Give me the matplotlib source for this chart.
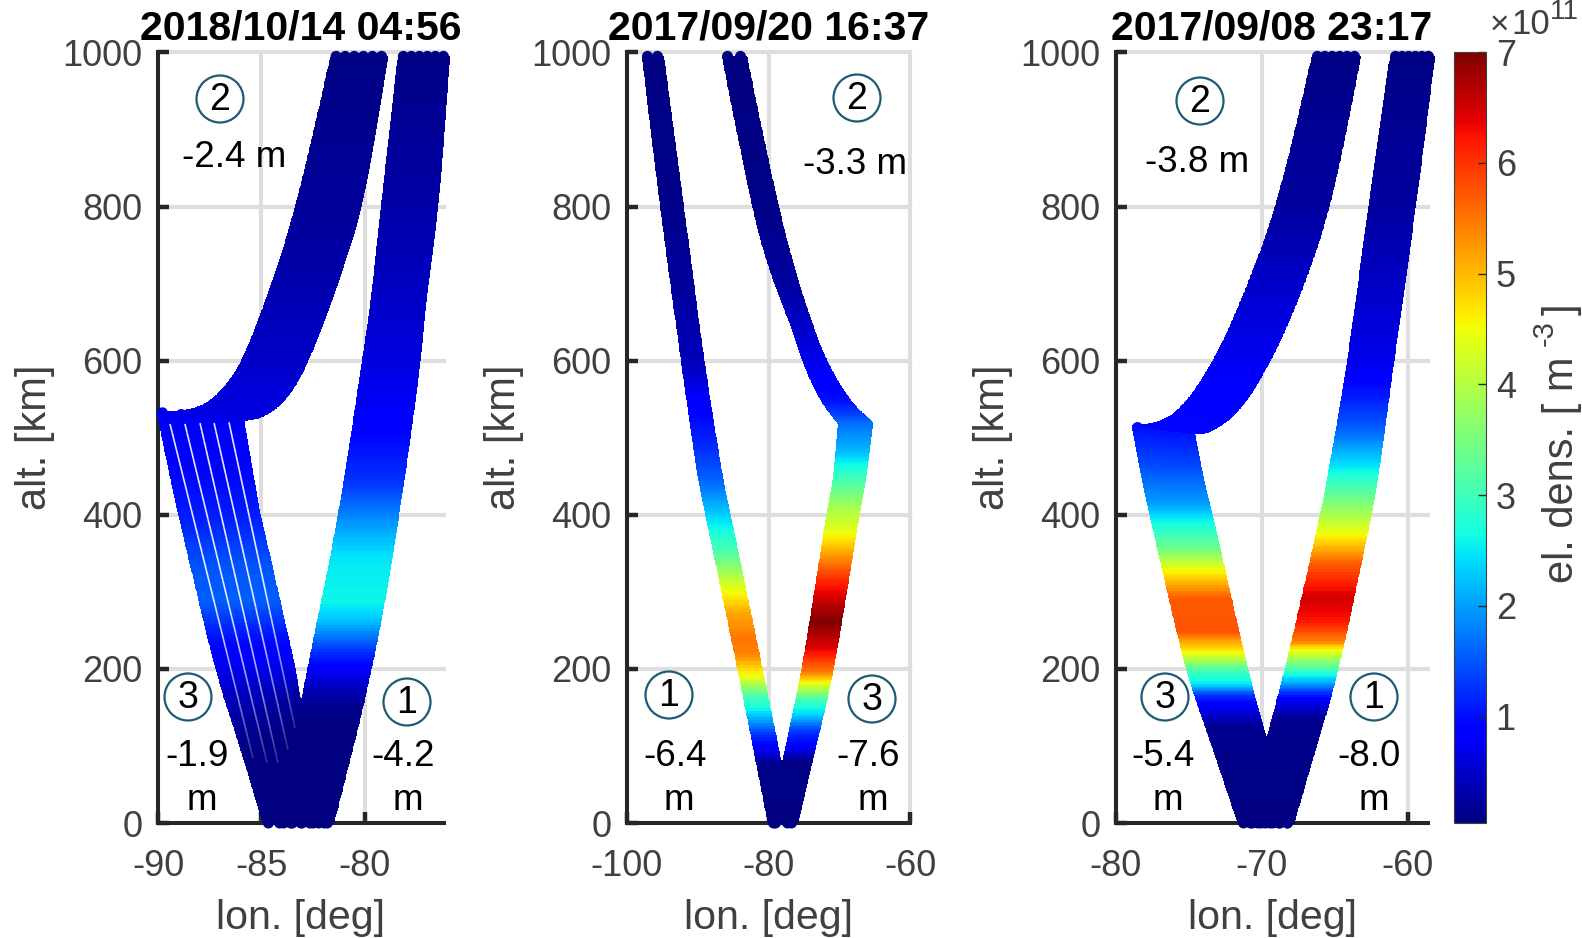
import numpy as np
import matplotlib as mat
mat.use("Agg")
import matplotlib.pyplot as plt
from matplotlib.colors import Normalize
from matplotlib.cm import ScalarMappable
from matplotlib.collections import LineCollection
from matplotlib.patches import Circle
from matplotlib.transforms import IdentityTransform

plt.rcParams['font.family'] = ['Liberation Sans', 'DejaVu Sans']
plt.rcParams['axes.unicode_minus'] = False

W, H = 1582, 938
DARK = '#262626'
GREY = '#404040'
RING = '#1d5b75'
GRID = '#dedede'

titles = ['2018/10/14 04:56', '2017/09/20 16:37', '2017/09/08 23:17']
alt_ticks = [0, 200, 400, 600, 800, 1000]
lon_ticks = [[-90, -85, -80], [-100, -80, -60], [-80, -70, -60]]
lon_lims = [(-90, -76.18), (-100, -60), (-80, -58.63)]
dens_min, dens_max = 0.04, 7
dens_ticks = [1, 2, 3, 4, 5, 6, 7]

# panel 1, ray 1 (right band)
p1_leg1_alt = [0, 200, 393, 600, 678, 800, 995]
p1_leg1_w = [-84.20, -82.80, -81.30, -80.14, -79.71, -79.23, -78.41]
p1_leg1_e = [-81.55, -79.66, -78.41, -77.34, -77.10, -76.47, -75.94]
p1_leg1_pa = [0, 120, 150, 175, 202, 224, 267, 289, 345, 402, 445, 523, 600, 700, 800, 1000]
p1_leg1_pd = [.04, .05, .12, .4, .85, 1.25, 2.3, 2.6, 2.5, 1.8, 1.25, .85, .62, .45, .3, .08]
# panel 1, ray 2 (curved upper band)
p1_leg2_w = [-90.05, -88.12, -87.00, -85.89, -84.44, -83.32, -81.66]
p1_leg2_wa = [533, 537, 558, 600, 704, 800, 995]
p1_leg2_e = [-85.89, -84.93, -83.77, -82.75, -81.30, -80.14, -78.93]
p1_leg2_ea = [523, 527, 551, 600, 704, 800, 995]
p1_leg2_pa = [530, 600, 700, 800, 1000]
p1_leg2_pd = [.65, .5, .33, .2, .08]
# panel 1, ray 3 (left lower band)
p1_leg3_w = [-84.93, -86.04, -87.25, -88.94, -89.18, -90.05]
p1_leg3_wa = [0, 100, 200, 393, 419, 533]
p1_leg3_e = [-81.70, -83.14, -83.38, -85.07, -85.22, -85.89]
p1_leg3_ea = [0, 156, 200, 397, 419, 523]
p1_leg3_pa = [0, 115, 160, 202, 246, 289, 332, 400, 533]
p1_leg3_pd = [.04, .07, .3, .7, 1.05, 1.55, 1.5, 1.1, .72]
# panel 1, gaps between the rays of band 3
p1_gap_top_lon = [-89.42, -88.70, -87.97, -87.29, -86.57]
p1_gap_top_alt = [518, 518, 519, 519, 520]
p1_gap_end_lon = [-85.41, -84.73, -84.20, -83.72, -83.38]
p1_gap_end_alt = [84, 78, 78, 95, 123]

# panel 2
p2_leg1_alt = [0, 198, 398, 445, 600, 800, 995]
p2_leg1_w = [-80.07, -84.31, -88.83, -89.96, -92.37, -95.34, -97.88]
p2_leg1_e = [-76.54, -80.92, -85.44, -86.57, -89.26, -92.08, -94.91]
p2_leg1_pa = [0, 78, 95, 117, 147, 168, 190, 220, 241, 275, 306, 354, 397, 445, 489, 552, 600, 700, 800, 1000]
p2_leg1_pd = [.04, .1, .7, 1.3, 2.5, 3.2, 4.4, 5.4, 5.5, 5.1, 4.4, 3.1, 2.4, 1.6, 1.2, .8, .4, .22, .12, .05]
p2_leg2_w = [-70.18, -72.72, -75.27, -76.54, -80.21, -82.33, -86.57]
p2_leg2_wa = [519, 549, 600, 639, 726, 800, 995]
p2_leg2_e = [-65.37, -68.48, -72.01, -74.0, -75.97, -78.8, -83.18]
p2_leg2_ea = [520, 546, 600, 650, 704, 800, 995]
p2_leg2_pa = [520, 530, 550, 600, 700, 800, 1000]
p2_leg2_pd = [1.7, 1.4, 1.0, .7, .25, .1, .05]
p2_leg3_alt = [0, 78, 198, 406, 445, 519]
p2_leg3_w = [-79.79, -78.09, -75.27, -71.73, -70.88, -70.18]
p2_leg3_e = [-75.97, -74.0, -70.88, -67.21, -66.36, -65.37]
p2_leg3_pa = [0, 82, 99, 121, 143, 160, 182, 198, 228, 263, 315, 350, 380, 410, 423, 467, 488, 519]
p2_leg3_pd = [.04, .1, .8, 1.3, 2.4, 3.0, 4.4, 5.5, 6.4, 7, 6.1, 5.2, 4.4, 3.9, 3.6, 2.6, 2.1, 1.7]

# panel 3
p3_leg1_alt = [0, 108, 198, 398, 445, 600, 800, 995]
p3_leg1_w = [-71.16, -69.73, -68.42, -66.03, -65.55, -64.11, -62.74, -61.23]
p3_leg1_e = [-67.88, -66.23, -64.79, -62.60, -62.12, -61.03, -59.52, -58.22]
p3_leg1_pa = [0, 137, 164, 182, 198, 224, 237, 263, 293, 337, 380, 423, 458, 510, 553, 600, 800, 1000]
p3_leg1_pd = [.04, .15, .9, 2.0, 2.9, 4.4, 5.4, 6.2, 6.5, 5.7, 4.4, 3.4, 2.6, 1.6, 1.1, .7, .25, .08]
p3_leg2_w = [-78.90, -76.99, -75.41, -73.36, -71.30, -68.97, -66.58]
p3_leg2_wa = [516, 520, 540, 597, 682, 800, 995]
p3_leg2_e = [-74.66, -73.56, -71.51, -69.45, -67.40, -65.34, -63.29]
p3_leg2_ea = [506, 507, 536, 600, 687, 800, 995]
p3_leg2_pa = [520, 600, 700, 800, 1000]
p3_leg2_pd = [.95, .75, .5, .25, .08]
p3_leg3_alt_w = [0, 108, 198, 398, 445, 514]
p3_leg3_w = [-71.64, -73.56, -75.21, -77.67, -78.22, -78.90]
p3_leg3_alt_e = [0, 108, 198, 398, 445, 506]
p3_leg3_e = [-67.88, -69.73, -71.03, -73.42, -74.04, -74.66]
p3_leg3_pa = [0, 125, 150, 168, 182, 198, 224, 250, 293, 324, 358, 397, 415, 467, 514]
p3_leg3_pd = [.04, .15, .7, 1.3, 2.5, 3.0, 4.6, 5.75, 5.7, 4.7, 3.4, 2.5, 2.0, 1.4, 1.0]

# text put over the panels: (x px, y px, text)
ring_notes = [(220, 99, '2'), (188, 697, '3'), (407, 702, '1'),
              (857, 98, '2'), (669, 695, '1'), (872, 699, '3'),
              (1200, 101, '2'), (1165, 697, '3'), (1374, 697, '1')]
shift_notes = [(234, 157, '-2.4 m'), (197, 756, '-1.9'), (202, 800, 'm'), (403, 756, '-4.2'), (408, 800, 'm'),
               (855, 164, '-3.3 m'), (675, 756, '-6.4'), (679, 800, 'm'), (868, 756, '-7.6'), (873, 800, 'm'),
               (1197, 162, '-3.8 m'), (1163, 757, '-5.4'), (1168, 800, 'm'), (1369, 757, '-8.0'), (1374, 800, 'm')]

norm = Normalize(dens_min, dens_max)
cmap = 'jet'


def box(x0, x1, y0=52.5, y1=823):
    return [x0 / W, 1 - y1 / H, (x1 - x0) / W, (y1 - y0) / H]


def soft(v, k=25):
    # rounds the corners between the points, the two ends stay put
    padded = np.pad(v, k, mode='reflect', reflect_type='odd')
    return np.convolve(padded, np.ones(2 * k + 1) / (2 * k + 1), mode='valid')


def ribbon(ax, lon_a, alt_a, lon_b, alt_b, pa, pd, ends=(0, 0)):
    # fill between two edges, coloured by the density profile
    n = 300
    idx = np.linspace(0, len(lon_a) - 1, n)
    i0 = np.arange(len(lon_a))
    xa, ya = soft(np.interp(idx, i0, lon_a)), soft(np.interp(idx, i0, alt_a))
    xb, yb = soft(np.interp(idx, i0, lon_b)), soft(np.interp(idx, i0, alt_b))
    X = np.column_stack([xa, xb])
    Y = np.column_stack([ya, yb])
    mid = 0.5 * (ya + yb)
    C = np.interp(0.5 * (mid[:-1] + mid[1:]), pa, pd)[:, None]
    m = ax.pcolormesh(X, Y, C, cmap=cmap, norm=norm, shading='flat', edgecolors='face', linewidth=0.4, zorder=3)
    m.set_clip_on(False)
    # round blobs where the rays stop
    for k, count in zip((0, -1), ends):
        if not count:
            continue
        pa_px = ax.transData.transform([(lon_a[k], alt_a[k]), (lon_b[k], alt_b[k])])
        frac = 5.5 / np.hypot(*(pa_px[1] - pa_px[0]))
        f = np.linspace(frac, 1 - frac, count)
        dx = lon_a[k] + f * (lon_b[k] - lon_a[k])
        dy = alt_a[k] + f * (alt_b[k] - alt_a[k])
        ax.scatter(dx, dy, c=np.interp(dy, pa, pd), cmap=cmap, norm=norm, s=(11 * 0.72) ** 2,
                   linewidths=0, zorder=3, clip_on=False)


fig = plt.figure(figsize=(W / 100, H / 100), dpi=100)
boxes = [(158, 444), (627, 910), (1116, 1428)]
axes = []
for i in range(3):
    ax = fig.add_axes(box(*boxes[i]))
    ax.set_xlim(*lon_lims[i])
    ax.set_ylim(0, 1000)
    ax.set_xticks(lon_ticks[i])
    ax.set_yticks(alt_ticks)
    ax.grid(True, color=GRID, linewidth=3.0)
    ax.set_axisbelow(True)
    for gl in ax.get_xgridlines() + ax.get_ygridlines():
        gl.set_clip_on(False)
    ax.spines['top'].set_visible(False)
    ax.spines['right'].set_visible(False)
    ax.spines['left'].set_linewidth(2.9)
    ax.spines['bottom'].set_linewidth(2.9)
    ax.spines['left'].set_color(DARK)
    ax.spines['bottom'].set_color(DARK)
    ax.tick_params(direction='in', length=8, width=3.2, color=DARK, labelcolor=GREY, labelsize=26, pad=11)
    ax.tick_params(axis='x', pad=18.6)
    ax.set_title(titles[i], fontsize=29.5, fontweight='bold', pad=9, color='black')
    ax.set_xlabel('lon. [deg]', fontsize=29.6, color=GREY, labelpad=11)
    ax.set_ylabel('alt. [km]', fontsize=30, color=GREY)
    ax.yaxis.set_label_coords((55 - boxes[i][0] + [0, 469, 958][i]) / (boxes[i][1] - boxes[i][0]), 0.5)
    axes.append(ax)

ax = axes[0]
ribbon(ax, p1_leg3_w, p1_leg3_wa, p1_leg3_e, p1_leg3_ea, p1_leg3_pa, p1_leg3_pd, (6, 5))
ribbon(ax, p1_leg1_w, p1_leg1_alt, p1_leg1_e, p1_leg1_alt, p1_leg1_pa, p1_leg1_pd, (6, 6))
ribbon(ax, p1_leg2_w, p1_leg2_wa, p1_leg2_e, p1_leg2_ea, p1_leg2_pa, p1_leg2_pd, (0, 6))
for k in range(len(p1_gap_top_lon)):
    f = np.linspace(0, 1, 40)
    gx = p1_gap_top_lon[k] + f * (p1_gap_end_lon[k] - p1_gap_top_lon[k])
    gy = p1_gap_top_alt[k] + f * (p1_gap_end_alt[k] - p1_gap_top_alt[k])
    segs = np.stack([np.column_stack([gx[:-1], gy[:-1]]), np.column_stack([gx[1:], gy[1:]])], axis=1)
    lc = LineCollection(segs, colors=[(1, 1, 1, a) for a in np.clip(1.15 - f[:-1] ** 2, 0, 0.9)],
                        linewidths=1.2, zorder=4)
    ax.add_collection(lc)

ax = axes[1]
ribbon(ax, p2_leg3_w, p2_leg3_alt, p2_leg3_e, p2_leg3_alt, p2_leg3_pa, p2_leg3_pd, (2, 2))
ribbon(ax, p2_leg1_w, p2_leg1_alt, p2_leg1_e, p2_leg1_alt, p2_leg1_pa, p2_leg1_pd, (2, 2))
ribbon(ax, p2_leg2_w, p2_leg2_wa, p2_leg2_e, p2_leg2_ea, p2_leg2_pa, p2_leg2_pd, (0, 2))

ax = axes[2]
ribbon(ax, p3_leg3_w, p3_leg3_alt_w, p3_leg3_e, p3_leg3_alt_e, p3_leg3_pa, p3_leg3_pd, (6, 5))
ribbon(ax, p3_leg1_w, p3_leg1_alt, p3_leg1_e, p3_leg1_alt, p3_leg1_pa, p3_leg1_pd, (6, 6))
ribbon(ax, p3_leg2_w, p3_leg2_wa, p3_leg2_e, p3_leg2_ea, p3_leg2_pa, p3_leg2_pd, (0, 6))

# colour bar
cax = fig.add_axes(box(1454, 1486, 52, 823))
cb = fig.colorbar(ScalarMappable(norm=norm, cmap=cmap), cax=cax)
cb.set_ticks(dens_ticks)
cb.ax.tick_params(direction='in', length=6, width=1, color=DARK, labelcolor=GREY, labelsize=26, pad=7)
cb.outline.set_edgecolor(GREY)
cb.outline.set_linewidth(0.8)
fig.text(1499 / W, 1 - 25 / H, '\u00d7', fontsize=24, color=GREY, ha='center', va='center')
fig.text(1531 / W, 1 - 24 / H, '10', fontsize=25, color=GREY, ha='center', va='center')
fig.text(1564 / W, 1 - 12 / H, '11', fontsize=20, color=GREY, ha='center', va='center')
# label in pieces, it runs close to the edge of the picture as in the original
fig.text(1573 / W, 1 - 583 / H, 'el. dens. [ m', fontsize=30, color=GREY, rotation=90,
         rotation_mode='anchor', ha='left', va='baseline')
fig.text(1553 / W, 1 - 346 / H, '-3', fontsize=21, color=GREY, rotation=90,
         rotation_mode='anchor', ha='left', va='baseline')
fig.text(1573 / W, 1 - 315 / H, ']', fontsize=30, color=GREY, rotation=90,
         rotation_mode='anchor', ha='left', va='baseline')

# notes
for x, y, s in ring_notes:
    fig.add_artist(Circle((x, H - y), 23.5, transform=IdentityTransform(), fill=False, edgecolor=RING, linewidth=1.6))
    fig.text(x / W, 1 - (y + 1) / H, s, fontsize=27, color='black', ha='center', va='center')
for x, y, s in shift_notes:
    fig.text(x / W, 1 - y / H, s, fontsize=26.5, color='black', ha='center', va='center')

fig.savefig('out.png', dpi=100, facecolor='white')
